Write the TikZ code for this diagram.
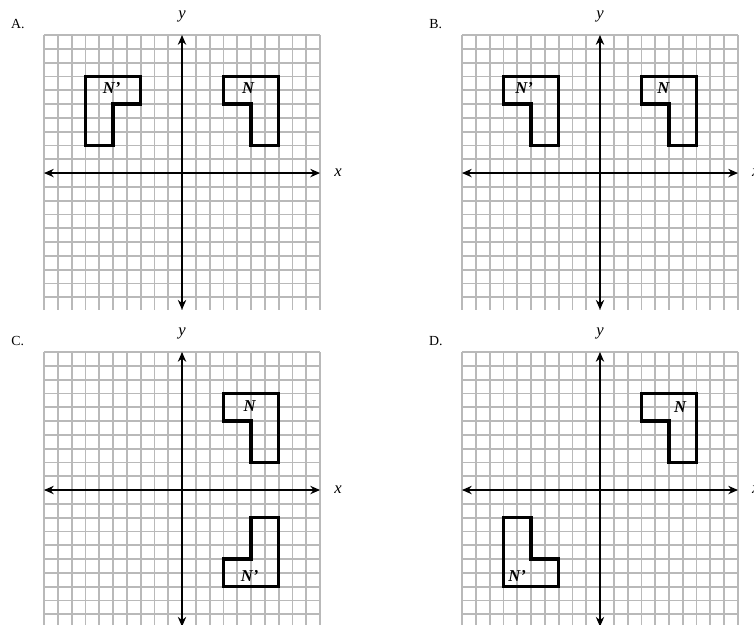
\documentclass[tikz,border=0pt]{standalone}
\usepackage{fontspec}
\setmainfont{Liberation Serif}
\usetikzlibrary{arrows.meta}
\definecolor{gridgray}{RGB}{185,185,185}

\begin{document}
\begin{tikzpicture}[x=0.35cm, y=0.35cm,
  gridline/.style={gridgray, line width=1.3pt, step=1},
  axis/.style={{Stealth[length=7pt,width=6pt]}-{Stealth[length=7pt,width=6pt]}, line width=1.7pt},
  figure/.style={line width=2.4pt, line join=miter},
  panellabel/.style={font=\normalsize},
  axlabel/.style={font=\large\itshape},
  shapelabel/.style={font=\large\bfseries\itshape}]
\useasboundingbox (0,0) rectangle (54.64,-45.29);

% --- Panel A: reflection in the y-axis ---
\begin{scope}[shift={(13.19,-12.54)}]
\draw[gridline] (-10,-9.9) grid (10,10);
\draw[axis] (-10,0) -- (10,0);
\draw[axis] (0,-9.9) -- (0,10);
\node[panellabel] (labA) at (-11.9,10.8) {A.};
\node[axlabel] (yA) at (0,11.35) {y};
\node[axlabel] (xA) at (11.3,0.05) {x};
% N and its image
\draw[figure] (3,7) -- (7,7) -- (7,2) -- (5,2) -- (5,5) -- (3,5) -- cycle;
\node[shapelabel] (NA) at (4.8,6.15) {N};
\draw[figure] (-7,7) -- (-3,7) -- (-3,5) -- (-5,5) -- (-5,2) -- (-7,2) -- cycle;
\node[shapelabel] (NpA) at (-5.1,6.15) {N’};
\end{scope}

% --- Panel B: translation ---
\begin{scope}[shift={(43.48,-12.54)}]
\draw[gridline] (-10,-9.9) grid (10,10);
\draw[axis] (-10,0) -- (10,0);
\draw[axis] (0,-9.9) -- (0,10);
\node[panellabel] (labB) at (-11.9,10.8) {B.};
\node[axlabel] (yB) at (0,11.35) {y};
\node[axlabel] (xB) at (11.3,0.05) {x};
% N and its image
\draw[figure] (3,7) -- (7,7) -- (7,2) -- (5,2) -- (5,5) -- (3,5) -- cycle;
\node[shapelabel] (NB) at (4.6,6.15) {N};
\draw[figure] (-7,7) -- (-3,7) -- (-3,2) -- (-5,2) -- (-5,5) -- (-7,5) -- cycle;
\node[shapelabel] (NpB) at (-5.5,6.15) {N’};
\end{scope}

% --- Panel C: reflection in the x-axis ---
\begin{scope}[shift={(13.19,-35.51)}]
\draw[gridline] (-10,-9.9) grid (10,10);
\draw[axis] (-10,0) -- (10,0);
\draw[axis] (0,-9.9) -- (0,10);
\node[panellabel] (labC) at (-11.9,10.8) {C.};
\node[axlabel] (yC) at (0,11.35) {y};
\node[axlabel] (xC) at (11.3,0.05) {x};
% N and its image
\draw[figure] (3,7) -- (7,7) -- (7,2) -- (5,2) -- (5,5) -- (3,5) -- cycle;
\node[shapelabel] (NC) at (4.9,6.1) {N};
\draw[figure] (5,-2) -- (7,-2) -- (7,-7) -- (3,-7) -- (3,-5) -- (5,-5) -- cycle;
\node[shapelabel] (NpC) at (4.9,-6.2) {N’};
\end{scope}

% --- Panel D: half turn about the origin ---
\begin{scope}[shift={(43.48,-35.51)}]
\draw[gridline] (-10,-9.9) grid (10,10);
\draw[axis] (-10,0) -- (10,0);
\draw[axis] (0,-9.9) -- (0,10);
\node[panellabel] (labD) at (-11.9,10.8) {D.};
\node[axlabel] (yD) at (0,11.35) {y};
\node[axlabel] (xD) at (11.3,0.05) {x};
% N and its image
\draw[figure] (3,7) -- (7,7) -- (7,2) -- (5,2) -- (5,5) -- (3,5) -- cycle;
\node[shapelabel] (ND) at (5.8,6.0) {N};
\draw[figure] (-7,-2) -- (-5,-2) -- (-5,-5) -- (-3,-5) -- (-3,-7) -- (-7,-7) -- cycle;
\node[shapelabel] (NpD) at (-6.0,-6.2) {N’};
\end{scope}
\end{tikzpicture}
\end{document}
